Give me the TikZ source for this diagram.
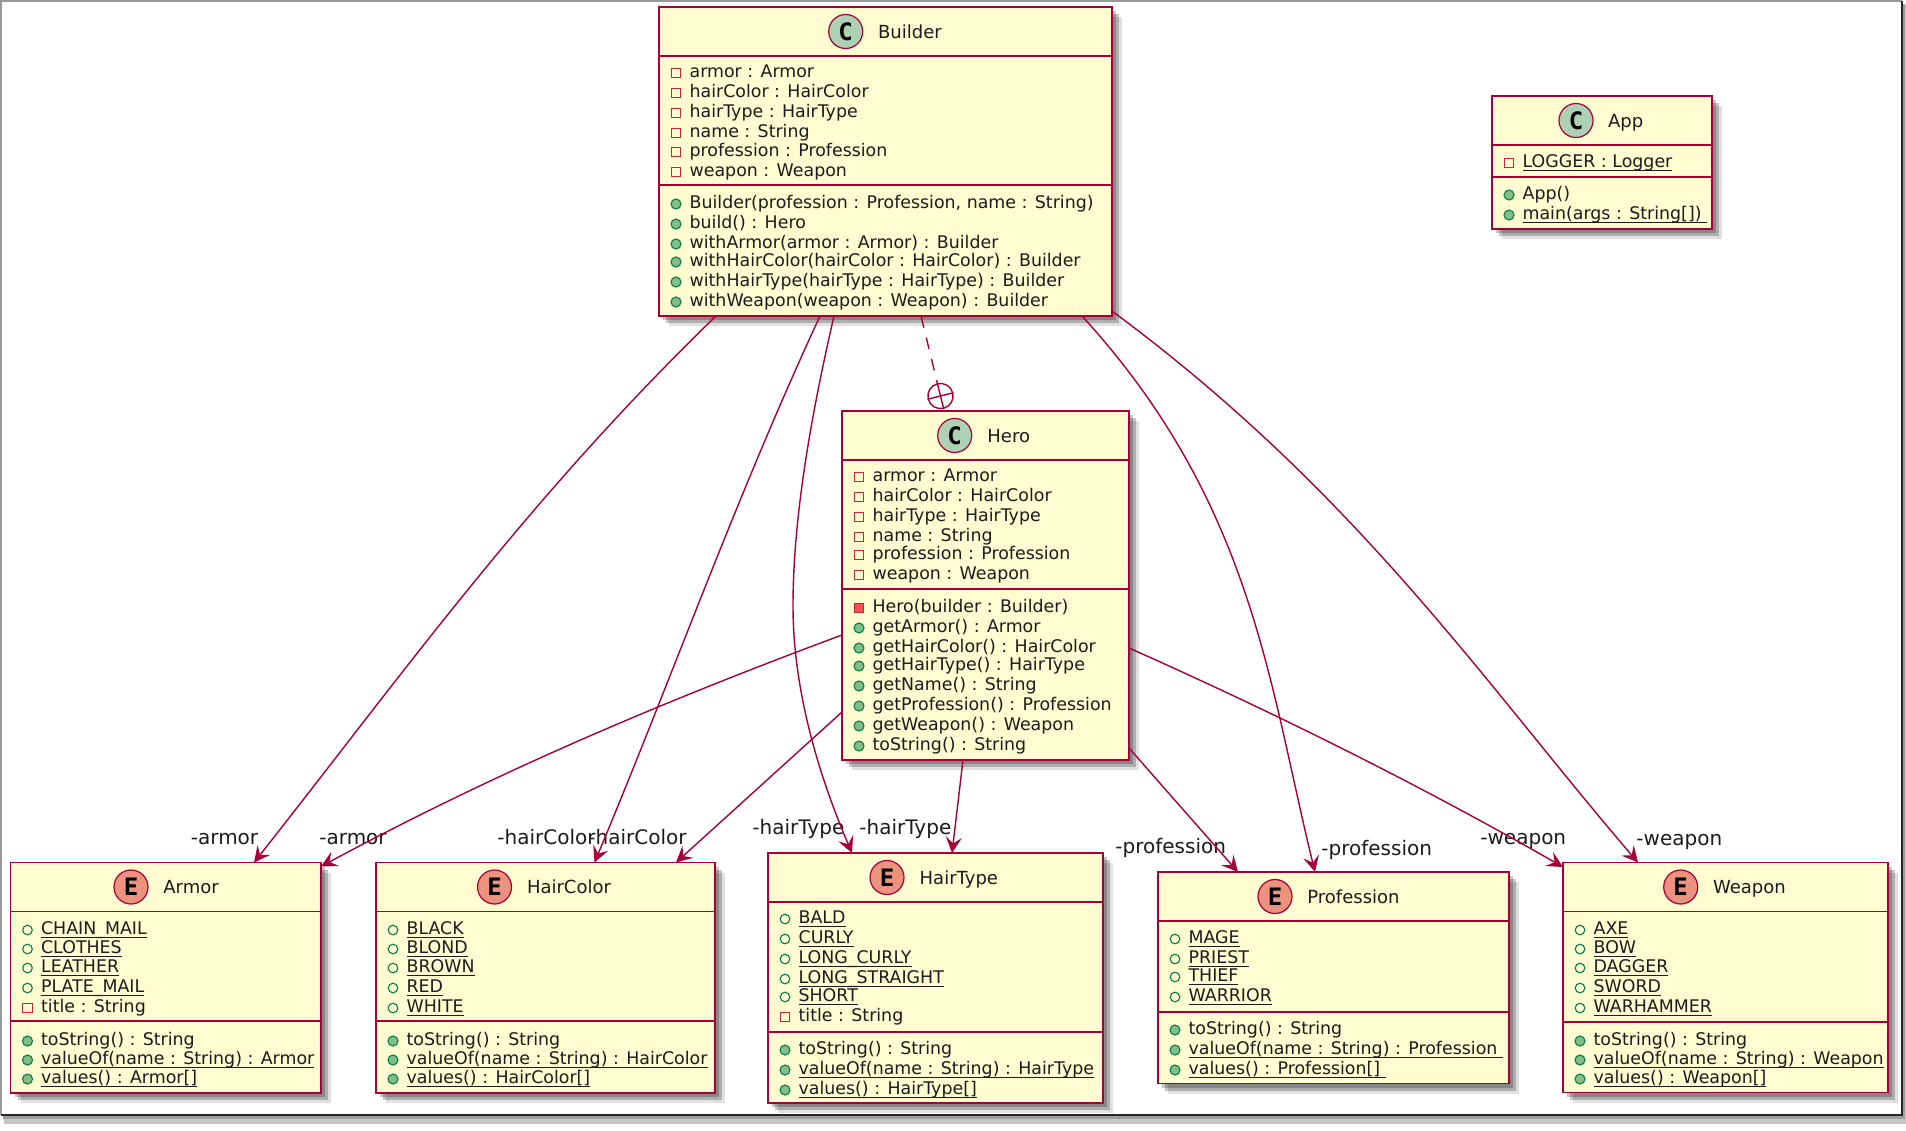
\documentclass[tikz,border=0pt]{standalone}
\usepackage{fontspec}
\setmainfont{DejaVu Sans}
\setmonofont{DejaVu Sans Mono}
\usepackage{xcolor}
\usetikzlibrary{arrows.meta,calc,fit,shadows}
\definecolor{ink}{HTML}{1C1C1C}
\definecolor{umlborder}{HTML}{A80036}
\definecolor{umlfill}{HTML}{FEFCD0}
\definecolor{classbadge}{HTML}{ADD1B2}
\definecolor{enumbadge}{HTML}{EB937F}
\definecolor{pubgreen}{HTML}{038048}
\definecolor{pubfill}{HTML}{84BE84}
\definecolor{privred}{HTML}{C82930}
\definecolor{privfill}{HTML}{F24D5C}
\newsavebox{\statbox}
\newcommand{\stat}[1]{\sbox{\statbox}{#1}\rlap{\usebox{\statbox}}\rule[-1.9pt]{\wd\statbox}{0.6pt}}
\newcommand{\memberrows}[2]{%
  \foreach \rowy/\kind/\txt in {#2} {
    \node[\kind,xshift=8.5pt,yshift=-1pt] (#1-k\rowy) at (#1.west |- 0,\rowy) {};
    \node[member,xshift=15.1pt,yshift=-3pt] (#1-m\rowy) at (#1.west |- 0,\rowy) {\txt};
  }%
}
\begin{document}
\begin{tikzpicture}[x=0.5pt,y=-0.5pt]
    \tikzset{
      classbox/.style={rectangle,draw=umlborder,fill=umlfill,line width=0.95pt,inner sep=0pt,outer sep=0pt,
        drop shadow={shadow xshift=5pt,shadow yshift=-5pt,fill=black,opacity=0.12},
        drop shadow={shadow xshift=3.6pt,shadow yshift=-3.6pt,fill=black,opacity=0.22},
        drop shadow={shadow xshift=2.2pt,shadow yshift=-2.2pt,fill=black,opacity=0.22}},
      classline/.style={draw=umlborder,line width=0.95pt},
      badge/.style={circle,draw=umlborder,line width=0.6pt,minimum size=17pt,inner sep=0pt,font=\ttfamily\bfseries\fontsize{12}{12}\selectfont,text=black},
      classtitle/.style={anchor=base west,inner sep=0pt,yshift=-3.3pt,font=\fontsize{9}{9}\selectfont,text=ink},
      member/.style={anchor=base west,inner sep=0pt,font=\fontsize{8.7}{9}\selectfont,text=ink},
      rolelabel/.style={anchor=base west,inner sep=0pt,font=\fontsize{10}{10}\selectfont,text=ink},
      fieldpriv/.style={rectangle,draw=privred,line width=0.55pt,minimum size=4.6pt,inner sep=0pt},
      fieldpub/.style={circle,draw=pubgreen,line width=0.55pt,minimum size=4.8pt,inner sep=0pt},
      methpriv/.style={rectangle,draw=privred,fill=privfill,line width=0.55pt,minimum size=4.8pt,inner sep=0pt},
      methpub/.style={circle,draw=pubgreen,fill=pubfill,line width=0.55pt,minimum size=5pt,inner sep=0pt},
      assoc/.style={draw=umlborder,line width=0.7pt,-{Stealth[length=8pt,width=8pt,inset=3.2pt]}},
      nested/.style={draw=umlborder,line width=0.7pt,dash pattern=on 6pt off 5pt},
      nestmark/.style={circle,draw=umlborder,line width=0.7pt,minimum size=12.6pt,inner sep=0pt,rotate=14}
    }
    \useasboundingbox (0,0) rectangle (1906,1130);
    \fill[white] (0,0) rectangle (1906,1130);
    \fill[black!22] (4,5) rectangle (1906,1124);
    \fill[black!38] (3,4) rectangle (1904.5,1119);
    \fill[white] (1,1) rectangle (1902,1115);
    \draw[black!40,line width=0.8pt] (1,1115) -- (1,1) -- (1902,1);
    \draw[black!85,line width=1.1pt] (1902,1) -- (1902,1115) -- (1,1115);
    \foreach \name/\lft/\ytop/\rgt/\ybot/\sepa/\sepb/\bx/\tx/\bc/\letter/\lab in {
      builder/659/7/1112/316/56/185/845.7/877.7/classbadge/C/Builder,
      hero/842/411/1129/760/460/589/954.7/987/classbadge/C/Hero,
      app/1492/96/1712/229/145/177/1576/1607.7/classbadge/C/App,
      armor/10.5/862.5/321/1093/911.5/1021/131/163/enumbadge/E/Armor,
      haircolor/376/862.5/715/1093/911.5/1021/494.5/526.6/enumbadge/E/HairColor,
      hairtype/768/853/1103/1103/902/1032/887/919.3/enumbadge/E/HairType,
      profession/1158/872/1509/1083.5/921/1012/1275/1307/enumbadge/E/Profession,
      weapon/1563/862.5/1888/1092.5/911.5/1022/1680.7/1712.7/enumbadge/E/Weapon} {
      \node[classbox,fit={(\lft,\ytop) (\rgt,\ybot)}] (\name) {};
      \draw[classline] (\name.west |- 0,\sepa) -- (\name.east |- 0,\sepa);
      \draw[classline] (\name.west |- 0,\sepb) -- (\name.east |- 0,\sepb);
      \node[badge,fill=\bc] (\name-badge) at (\bx,{(\ytop+\sepa)/2}) {\letter};
      \node[classtitle] (\name-title) at (\tx,{(\ytop+\sepa)/2}) {\lab};
    }
    \memberrows{builder}{71/fieldpriv/armor : Armor,91/fieldpriv/hairColor : HairColor,111/fieldpriv/hairType : HairType,
      131/fieldpriv/name : String,150/fieldpriv/profession : Profession,170/fieldpriv/weapon : Weapon,
      202/methpub/{Builder(profession : Profession, name : String)},222/methpub/build() : Hero,
      242/methpub/withArmor(armor : Armor) : Builder,260/methpub/withHairColor(hairColor : HairColor) : Builder,
      280/methpub/withHairType(hairType : HairType) : Builder,300/methpub/withWeapon(weapon : Weapon) : Builder}
    \memberrows{hero}{475/fieldpriv/armor : Armor,495/fieldpriv/hairColor : HairColor,515/fieldpriv/hairType : HairType,
      535/fieldpriv/name : String,553/fieldpriv/profession : Profession,573/fieldpriv/weapon : Weapon,
      606/methpriv/Hero(builder : Builder),626/methpub/getArmor() : Armor,646/methpub/getHairColor() : HairColor,
      664/methpub/getHairType() : HairType,684/methpub/getName() : String,704/methpub/getProfession() : Profession,
      724/methpub/getWeapon() : Weapon,744/methpub/toString() : String}
    \memberrows{app}{161/fieldpriv/\stat{LOGGER : Logger},193/methpub/App(),213/methpub/\stat{main(args : String[])\ }}
    \memberrows{armor}{928/fieldpub/\stat{CHAIN\_MAIL},947/fieldpub/\stat{CLOTHES},966/fieldpub/\stat{LEATHER},
      986/fieldpub/\stat{PLATE\_MAIL},1006/fieldpriv/title : String,1039/methpub/toString() : String,
      1058/methpub/\stat{valueOf(name : String) : Armor},1077/methpub/\stat{values() : Armor[]}}
    \memberrows{haircolor}{928/fieldpub/\stat{BLACK},947/fieldpub/\stat{BLOND},966/fieldpub/\stat{BROWN},
      986/fieldpub/\stat{RED},1006/fieldpub/\stat{WHITE},1039/methpub/toString() : String,
      1058/methpub/\stat{valueOf(name : String) : HairColor},1077/methpub/\stat{values() : HairColor[]}}
    \memberrows{hairtype}{917/fieldpub/\stat{BALD},937/fieldpub/\stat{CURLY},957/fieldpub/\stat{LONG\_CURLY},
      977/fieldpub/\stat{LONG\_STRAIGHT},995/fieldpub/\stat{SHORT},1015/fieldpriv/title : String,1048/methpub/toString() : String,
      1068/methpub/\stat{valueOf(name : String) : HairType},1088/methpub/\stat{values() : HairType[]}}
    \memberrows{profession}{937/fieldpub/\stat{MAGE},957/fieldpub/\stat{PRIEST},975/fieldpub/\stat{THIEF},
      995/fieldpub/\stat{WARRIOR},1028/methpub/toString() : String,
      1048/methpub/\stat{valueOf(name : String) : Profession\ },1068/methpub/\stat{values() : Profession[]\ }}
    \memberrows{weapon}{928/fieldpub/\stat{AXE},947/fieldpub/\stat{BOW},966/fieldpub/\stat{DAGGER},
      986/fieldpub/\stat{SWORD},1006/fieldpub/\stat{WARHAMMER},1039/methpub/toString() : String,
      1058/methpub/\stat{valueOf(name : String) : Weapon},1077/methpub/\stat{values() : Weapon[]}}
    \foreach \role/\x/\y/\lab in {ra/190.5/844/-armor,rb/319/844/-armor,rc/497/844/-hairColor,rd/588/844/-hairColor,
      re/752/834/-hairType,rf/859/834/-hairType,rg/1115/853/-profession,rh/1321/855/-profession,
      ri/1480/844/-weapon,rj/1636/845/-weapon} {
      \node[rolelabel] (\role) at (\x,\y) {\lab};
    }
    \node[nestmark] (nest) at ($(hero.north west)+(98.5,-15)$) {};
    \draw[umlborder,line width=0.7pt] (nest.north) -- (nest.south) (nest.west) -- (nest.east);
    \draw[nested] ($(builder.south west)+(262,0)$) -- (nest);
    \draw[assoc] ($(builder.south west)+(57,0)$) .. controls (526,500) and (399,679) .. ($(armor.north west)+(243.5,0)$);
    \draw[assoc] ($(builder.south west)+(161,0)$) .. controls (736,497) and (671,680) .. ($(haircolor.north west)+(218.5,0)$);
    \draw[assoc] ($(builder.south west)+(175,0)$) .. controls (810,420) and (793,520) .. (793,606)
      .. controls (793,700) and (825,790) .. ($(hairtype.north west)+(84,0)$);
    \draw[assoc] ($(builder.south west)+(423,0)$) .. controls (1253,503) and (1269,685) .. ($(profession.north west)+(157,0)$);
    \draw[assoc] ($(builder.south east)+(0,-5)$) .. controls (1358,493) and (1484,683) .. ($(weapon.north west)+(75,0)$);
    \draw[assoc] ($(hero.north west)+(0,224)$) .. controls (667,700) and (496,772) .. ($(armor.north east)+(0,4)$);
    \draw[assoc] ($(hero.north west)+(0,301)$) -- ($(haircolor.north west)+(300,0)$);
    \draw[assoc] ($(hero.south west)+(121,0)$) -- ($(hairtype.north west)+(184,0)$);
    \draw[assoc] ($(hero.south east)+(0,-12)$) -- ($(profession.north west)+(80,0)$);
    \draw[assoc] ($(hero.north east)+(0,237)$) .. controls (1273,712) and (1420,785) .. ($(weapon.north west)+(0,4.5)$);
  \end{tikzpicture}
\end{document}
